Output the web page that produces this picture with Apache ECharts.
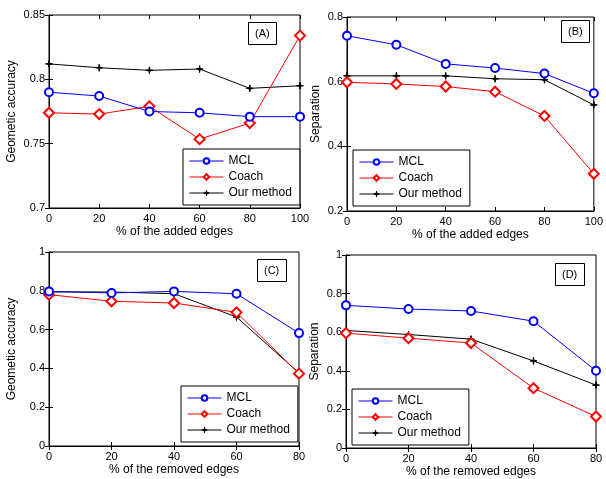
<!DOCTYPE html>
<html><head><meta charset="utf-8">
<script src="https://cdn.jsdelivr.net/npm/echarts@6/dist/echarts.min.js"></script>
<style>html,body{margin:0;padding:0;background:#fff}#c{width:606px;height:479px}</style>
</head><body><div id="c"></div>
<script>
// ---- data ----
const addedEdges = [0, 20, 40, 60, 80, 100];
const removedEdges = [0, 20, 40, 60, 80];
const seriesNames = ['MCL', 'Coach', 'Our method'];
const panelLabels = ['(A)', '(B)', '(C)', '(D)'];

// (A) Geometric accuracy vs % added edges
const accAddedMCL   = [0.790, 0.787, 0.775, 0.774, 0.771, 0.771];
const accAddedCoach = [0.774, 0.773, 0.779, 0.7535, 0.766, 0.834];
const accAddedOurs  = [0.812, 0.809, 0.807, 0.808, 0.793, 0.795];
// (B) Separation vs % added edges
const sepAddedMCL   = [0.742, 0.714, 0.655, 0.642, 0.625, 0.564];
const sepAddedCoach = [0.598, 0.593, 0.585, 0.569, 0.494, 0.315];
const sepAddedOurs  = [0.618, 0.618, 0.618, 0.609, 0.606, 0.528];
// (C) Geometric accuracy vs % removed edges
const accRemMCL   = [0.797, 0.789, 0.797, 0.785, 0.582];
const accRemCoach = [0.780, 0.746, 0.737, 0.689, 0.373];
const accRemOurs  = [0.794, 0.794, 0.785, 0.665, 0.376];
// (D) Separation vs % removed edges
const sepRemMCL   = [0.739, 0.720, 0.710, 0.657, 0.400];
const sepRemCoach = [0.595, 0.569, 0.544, 0.310, 0.163];
const sepRemOurs  = [0.609, 0.588, 0.564, 0.451, 0.326];

const xTitleAdded = '% of the added edges';
const xTitleRemoved = '% of the removed edges';
const yTitleAcc = 'Geometic accuracy';
const yTitleSep = 'Separation';

// ---- layout/style ----
const FONT = 'Liberation Sans, Arial, sans-serif';
const grids = [
  {left: 49, top: 15, width: 251, height: 193},
  {left: 347, top: 17, width: 251, height: 194},
  {left: 49, top: 252, width: 250, height: 194},
  {left: 346, top: 255, width: 250, height: 194}
];
const starPath = 'path://M0,-10L1.6,-1.6L10,0L1.6,1.6L0,10L-1.6,1.6L-10,0L-1.6,-1.6Z';
const styles = [
  {color: '#0000ff', symbol: 'emptyCircle', symbolSize: 8},
  {color: '#ff0000', symbol: 'emptyDiamond', symbolSize: 10},
  {color: '#000000', symbol: starPath, symbolSize: 7}
];

function xAxis(i, max, name) {
  return {
    type: 'value', gridIndex: i, min: 0, max: max, interval: 20,
    name: name, nameLocation: 'middle', nameGap: 18,
    nameTextStyle: {fontFamily: FONT, fontSize: 12, color: '#000'},
    axisLine: {show: true, onZero: false, lineStyle: {color: '#000', width: 1}},
    axisTick: {show: true, inside: true, length: 4, lineStyle: {color: '#000'}},
    axisLabel: {fontFamily: FONT, fontSize: 11, color: '#000', margin: 5},
    splitLine: {show: false}
  };
}
function xAxisTop(i, max) {
  return {
    type: 'value', gridIndex: i, min: 0, max: max, interval: 20, position: 'top',
    axisLine: {show: false}, axisLabel: {show: false},
    axisTick: {show: true, inside: true, length: 4, lineStyle: {color: '#000'}},
    splitLine: {show: false}
  };
}
function yAxis(i, min, max, interval, name, gap) {
  return {
    type: 'value', gridIndex: i, min: min, max: max, interval: interval,
    name: name, nameLocation: 'middle', nameGap: gap, nameRotate: 90,
    nameTextStyle: {fontFamily: FONT, fontSize: 12, color: '#000'},
    axisLine: {show: true, lineStyle: {color: '#000', width: 1}},
    axisTick: {show: true, inside: true, length: 4, lineStyle: {color: '#000'}},
    axisLabel: {fontFamily: FONT, fontSize: 11, color: '#000', margin: 4},
    splitLine: {show: false}
  };
}
function yAxisRight(i, min, max, interval) {
  return {
    type: 'value', gridIndex: i, min: min, max: max, interval: interval, position: 'right',
    axisLine: {show: false}, axisLabel: {show: false},
    axisTick: {show: true, inside: true, length: 4, lineStyle: {color: '#000'}},
    splitLine: {show: false}
  };
}
function pairs(xs, ys) { return xs.map((x, k) => [x, ys[k]]); }
function mkSeries(i, xs, arrs) {
  return arrs.map((ys, k) => ({
    type: 'line', name: seriesNames[k], xAxisIndex: i, yAxisIndex: i,
    data: pairs(xs, ys), symbol: styles[k].symbol, symbolSize: styles[k].symbolSize,
    showAllSymbol: true, clip: false,
    lineStyle: {color: styles[k].color, width: 1},
    itemStyle: {color: styles[k].color, borderColor: styles[k].color, borderWidth: 1},
    emphasis: {disabled: true}, animation: false, z: 5 - k
  }));
}
const legendPos = [
  {left: 183, top: 149},
  {left: 353, top: 150},
  {left: 181, top: 386},
  {left: 352, top: 389}
];
const labelPos = [
  {left: 248, top: 22},
  {left: 561, top: 20},
  {left: 257, top: 259},
  {left: 555, top: 263}
];

const option = {
  backgroundColor: '#fff',
  animation: false,
  grid: grids.map(g => Object.assign({show: true, borderColor: '#000', borderWidth: 1, backgroundColor: 'transparent'}, g)),
  xAxis: [xAxis(0, 100, xTitleAdded), xAxis(1, 100, xTitleAdded), xAxis(2, 80, xTitleRemoved), xAxis(3, 80, xTitleRemoved),
          xAxisTop(0, 100), xAxisTop(1, 100), xAxisTop(2, 80), xAxisTop(3, 80)],
  yAxis: [
    yAxis(0, 0.7, 0.85, 0.05, yTitleAcc, 31),
    yAxis(1, 0.2, 0.8, 0.2, yTitleSep, 25),
    yAxis(2, 0, 1, 0.2, yTitleAcc, 31),
    yAxis(3, 0, 1, 0.2, yTitleSep, 25),
    yAxisRight(0, 0.7, 0.85, 0.05),
    yAxisRight(1, 0.2, 0.8, 0.2),
    yAxisRight(2, 0, 1, 0.2),
    yAxisRight(3, 0, 1, 0.2)
  ],
  legend: legendPos.map(p => ({
    left: p.left, top: p.top, orient: 'vertical', data: seriesNames,
    borderColor: '#000', borderWidth: 1, backgroundColor: '#fff',
    padding: [6, 8, 6, 6], itemGap: 4, itemWidth: 34, itemHeight: 7,
    selectedMode: false,
    lineStyle: {width: 1},
    itemStyle: {borderWidth: 1},
    textStyle: {fontFamily: FONT, fontSize: 12, color: '#000'}
  })),
  title: panelLabels.map((t, k) => ({
    text: t, left: labelPos[k].left, top: labelPos[k].top,
    borderColor: '#000', borderWidth: 1, backgroundColor: '#fff',
    padding: [6, 7, 6, 7],
    textStyle: {fontFamily: FONT, fontSize: 11, fontWeight: 'normal', color: '#000'}
  })),
  series: [].concat(
    mkSeries(0, addedEdges, [accAddedMCL, accAddedCoach, accAddedOurs]),
    mkSeries(1, addedEdges, [sepAddedMCL, sepAddedCoach, sepAddedOurs]),
    mkSeries(2, removedEdges, [accRemMCL, accRemCoach, accRemOurs]),
    mkSeries(3, removedEdges, [sepRemMCL, sepRemCoach, sepRemOurs])
  )
};
const chart = echarts.init(document.getElementById('c'), null, {renderer: 'canvas'});
chart.setOption(option);
</script>
</body></html>
